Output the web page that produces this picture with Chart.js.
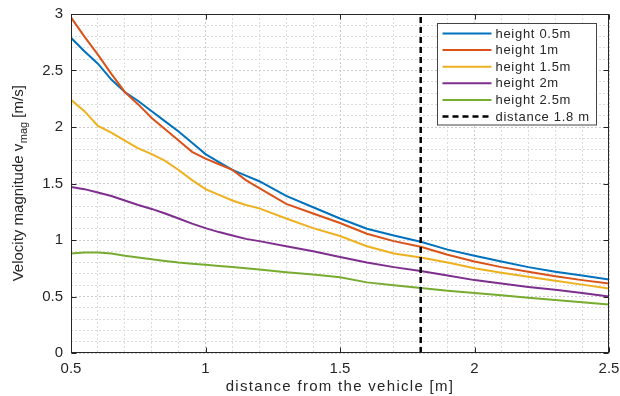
<!DOCTYPE html>
<html><head><meta charset="utf-8">
<script src="https://cdn.jsdelivr.net/npm/chart.js@4.4.1/dist/chart.umd.min.js"></script>
<style>html,body{margin:0;padding:0;background:#fff}canvas{display:block}</style>
</head><body>
<canvas id="c" width="620" height="396"></canvas>
<script>
const distances = [0.5,0.55,0.6,0.65,0.7,0.75,0.8,0.85,0.9,0.95,1.0,1.05,1.1,1.15,1.2,1.3,1.4,1.5,1.6,1.7,1.8,1.9,2.0,2.1,2.2,2.3,2.4,2.5];
const height05 = [2.79,2.67,2.56,2.42,2.31,2.23,2.14,2.05,1.96,1.86,1.76,1.69,1.62,1.57,1.52,1.39,1.29,1.19,1.10,1.04,0.985,0.915,0.86,0.81,0.76,0.72,0.685,0.65];
const height10 = [2.97,2.80,2.64,2.47,2.31,2.20,2.08,1.98,1.88,1.78,1.72,1.67,1.62,1.53,1.46,1.32,1.235,1.15,1.055,0.99,0.94,0.87,0.81,0.76,0.72,0.68,0.645,0.615];
const height15 = [2.24,2.14,2.01,1.95,1.88,1.81,1.76,1.70,1.62,1.53,1.45,1.40,1.35,1.31,1.28,1.19,1.105,1.035,0.945,0.88,0.845,0.80,0.75,0.71,0.675,0.64,0.605,0.57];
const height20 = [1.47,1.45,1.42,1.39,1.35,1.31,1.275,1.235,1.19,1.145,1.105,1.07,1.04,1.01,0.99,0.945,0.90,0.85,0.80,0.76,0.725,0.685,0.645,0.615,0.585,0.56,0.53,0.50];
const height25 = [0.88,0.89,0.89,0.88,0.86,0.845,0.83,0.815,0.80,0.79,0.78,0.77,0.76,0.75,0.74,0.715,0.695,0.67,0.625,0.60,0.575,0.55,0.53,0.51,0.49,0.47,0.45,0.43];
const seriesLabels = ['height 0.5m','height 1m','height 1.5m','height 2m','height 2.5m'];
const seriesValues = [height05, height10, height15, height20, height25];
const seriesColors = ['#0072BD','#D95319','#EDB120','#7E2F8E','#77AC30'];
const markerLabel = 'distance 1.8 m';
const markerDistance = 1.8;
const xMajorTicks = [0.5,1,1.5,2,2.5];
const yMajorTicks = [0,0.5,1,1.5,2,2.5,3];
const xTitle = 'distance from the vehicle [m]';
const yTitleMain = 'Velocity magnitude v';
const yTitleSub = 'mag';
const yTitleEnd = ' [m/s]';

const FONT = '"Liberation Sans", Arial, sans-serif';
const isMajor = (v, list) => list.some(t => Math.abs(t - v) < 1e-6);
const fmt = v => Number.isInteger(Math.round(v*1e6)/1e6) ? String(Math.round(v)) : (Math.round(v*10)/10).toFixed(1);

const datasets = seriesValues.map((vals, i) => ({
  label: seriesLabels[i],
  data: distances.map((x, j) => ({x, y: vals[j]})),
  borderColor: seriesColors[i],
  backgroundColor: seriesColors[i],
  borderWidth: 2,
  pointRadius: 0,
  tension: 0,
  fill: false,
  order: 10 - i
}));
datasets.push({
  label: markerLabel,
  data: [{x: markerDistance, y: 0}, {x: markerDistance, y: 3}],
  borderColor: '#000',
  borderWidth: 2.5,
  borderDash: [6, 4],
  pointRadius: 0,
  fill: false,
  order: 0
});

const decor = {
  id: 'decor',
  afterDatasetsDraw(chart) {
    const {ctx, chartArea: a, scales: {x, y}} = chart;
    ctx.save();
    ctx.setLineDash([]);
    ctx.strokeStyle = '#262626';
    ctx.lineWidth = 1;
    const L = Math.round(a.left) + 0.5, T = Math.round(a.top) + 0.5, R = Math.round(a.right) - 0.5, B = Math.round(a.bottom) - 0.5;
    ctx.strokeRect(L, T, R - L, B - T);
    const tl = 5;
    ctx.beginPath();
    xMajorTicks.forEach(v => {
      const px = Math.round(x.getPixelForValue(v)) + 0.5;
      ctx.moveTo(px, B); ctx.lineTo(px, B - tl);
      ctx.moveTo(px, T); ctx.lineTo(px, T + tl);
    });
    yMajorTicks.forEach(v => {
      const py = Math.round(y.getPixelForValue(v)) + 0.5;
      ctx.moveTo(L, py); ctx.lineTo(L + tl, py);
      ctx.moveTo(R, py); ctx.lineTo(R - tl, py);
    });
    ctx.stroke();

    // legend
    const bw = 159, bh = 101.5;
    const bl = Math.round(a.right - 172) + 0.5, bt = Math.round(a.top + 9) + 0.5;
    ctx.fillStyle = '#fff';
    ctx.fillRect(bl, bt, bw, bh);
    ctx.strokeStyle = '#444';
    ctx.lineWidth = 1;
    ctx.strokeRect(bl, bt, bw, bh);
    ctx.font = '13px ' + FONT;
    ctx.letterSpacing = '0.7px';
    ctx.textBaseline = 'middle';
    ctx.textAlign = 'left';
    chart.data.datasets.forEach((ds, i) => {
      const cy = bt + 10 + i * 16.6;
      ctx.save();
      ctx.strokeStyle = ds.borderColor;
      ctx.lineWidth = ds.borderWidth;
      ctx.setLineDash(ds.borderDash || []);
      ctx.beginPath();
      ctx.moveTo(bl + 5, cy); ctx.lineTo(bl + 54, cy);
      ctx.stroke();
      ctx.restore();
      ctx.fillStyle = '#262626';
      ctx.fillText(ds.label, bl + 58, cy + 0.5);
    });
    ctx.restore();
  },
  afterDraw(chart) {
    const {ctx, chartArea: a} = chart;
    ctx.save();
    ctx.fillStyle = '#262626';
    // x title
    ctx.font = '15px ' + FONT;
    ctx.letterSpacing = '1.3px';
    ctx.textAlign = 'center';
    ctx.textBaseline = 'middle';
    ctx.fillText(xTitle, (a.left + a.right) / 2, 386.5);
    // y title with subscript
    ctx.letterSpacing = '0px';
    ctx.translate(23, (a.top + a.bottom) / 2);
    ctx.rotate(-Math.PI / 2);
    ctx.textAlign = 'left';
    ctx.textBaseline = 'alphabetic';
    ctx.font = '15px ' + FONT;
    const w1 = ctx.measureText(yTitleMain).width;
    const w3 = ctx.measureText(yTitleEnd).width;
    ctx.font = '11px ' + FONT;
    const w2 = ctx.measureText(yTitleSub).width;
    let sx = -(w1 + w2 + w3) / 2;
    ctx.font = '15px ' + FONT;
    ctx.fillText(yTitleMain, sx, 0);
    ctx.font = '11px ' + FONT;
    ctx.fillText(yTitleSub, sx + w1 + 0.5, 4);
    ctx.font = '15px ' + FONT;
    ctx.fillText(yTitleEnd, sx + w1 + w2 + 0.5, 0);
    ctx.restore();
  }
};

const gridColor = list => c => (c.tick && isMajor(c.tick.value, list)) ? '#cbcbcb' : '#dcdcdc';

new Chart(document.getElementById('c'), {
  type: 'line',
  data: {datasets},
  options: {
    responsive: false,
    animation: false,
    devicePixelRatio: 1,
    layout: {padding: {left: 0, right: 11, top: 14, bottom: 0}},
    plugins: {legend: {display: false}, tooltip: {enabled: false}},
    scales: {
      x: {
        type: 'linear', min: 0.5, max: 2.5,
        afterFit: s => { s.height = 43; s.paddingLeft = 0; s.paddingRight = 0; },
        ticks: {
          stepSize: 0.1, autoSkip: false, maxRotation: 0, padding: 7,
          color: '#262626', font: {family: FONT, size: 15},
          callback: v => isMajor(v, xMajorTicks) ? fmt(v) : ''
        },
        grid: {color: gridColor(xMajorTicks), lineWidth: 1, drawTicks: false},
        border: {display: false, dash: [2, 2]},
        title: {display: false}
      },
      y: {
        type: 'linear', min: 0, max: 3,
        afterFit: s => { s.width = 71; s.paddingTop = 0; s.paddingBottom = 0; },
        ticks: {
          stepSize: 0.1, autoSkip: false, padding: 8,
          color: '#262626', font: {family: FONT, size: 15},
          callback: v => isMajor(v, yMajorTicks) ? fmt(v) : ''
        },
        grid: {color: gridColor(yMajorTicks), lineWidth: 1, drawTicks: false},
        border: {display: false, dash: [2, 2]},
        title: {display: false}
      }
    }
  },
  plugins: [decor]
});
</script>
</body></html>
